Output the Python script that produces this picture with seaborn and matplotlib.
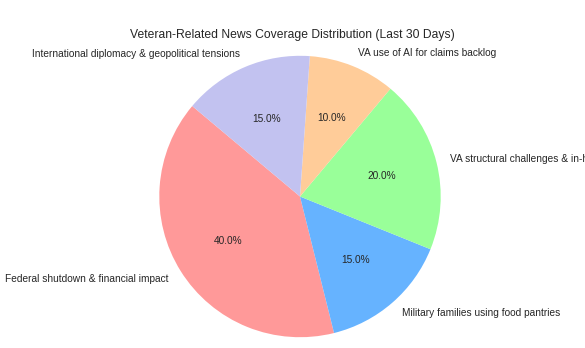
import matplotlib
matplotlib.use("Agg")
import matplotlib.pyplot as plt
import seaborn as sns

# Topic shares of veteran-related news coverage over the last 30 days
topics = [
    "Federal shutdown & financial impact",
    "Military families using food pantries",
    "VA structural challenges & in-house reforms",
    "VA use of AI for claims backlog",
    "International diplomacy & geopolitical tensions",
]
shares = [40, 15, 20, 10, 15]
colors = ["#ff9999", "#66b3ff", "#99ff99", "#ffcc99", "#c2c2f0"]
title = "Veteran-Related News Coverage Distribution (Last 30 Days)"

sns.set_theme(style="white")
plt.rcParams["font.family"] = ["Liberation Sans", "DejaVu Sans"]
plt.rcParams["text.color"] = ".15"

W, H, DPI = 5.85, 3.48, 100
fig = plt.figure(figsize=(W, H), dpi=DPI)
ax = fig.add_axes([0, 0, 1, 1])

ax.pie(
    shares,
    labels=topics,
    colors=colors,
    autopct="%1.1f%%",
    startangle=140,
    wedgeprops={"linewidth": 0, "edgecolor": "none"},
    textprops={"fontsize": 7.3, "color": ".15"},
)

# Place the pie: centre and radius in pixels
cx, cy, r = 300.0, 196.5, 140.7
wpx, hpx = W * DPI, H * DPI
ax.set_aspect("auto")
ax.set_xlim(-cx / r, (wpx - cx) / r)
ax.set_ylim(-(hpx - cy) / r, cy / r)
ax.axis("off")

ax.set_title(title, fontsize=8.7, color=".15", y=1 - 37.6 / hpx, pad=0)

fig.savefig("out.png", dpi=DPI)
